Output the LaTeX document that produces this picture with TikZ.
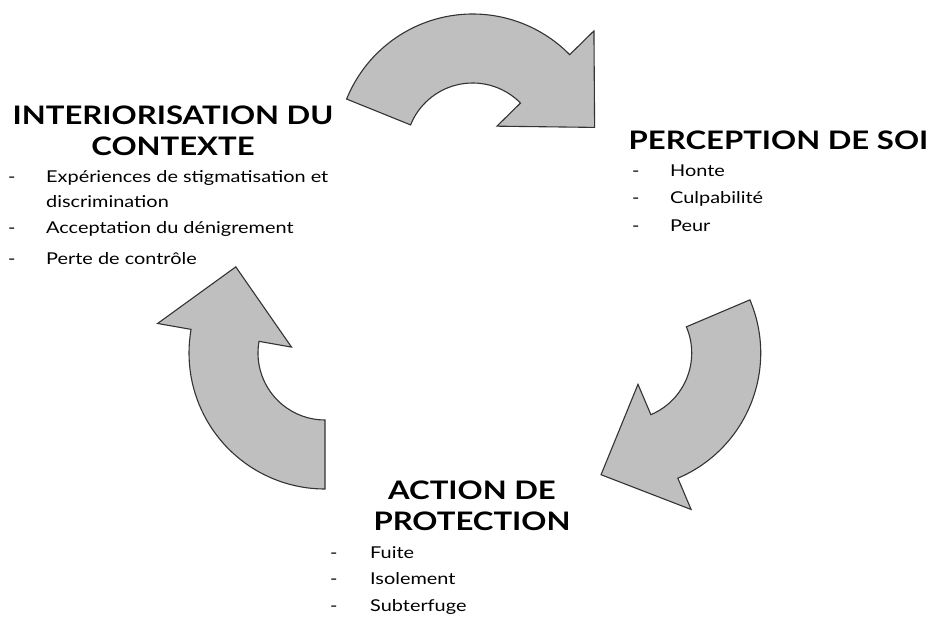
\documentclass[tikz,border=0pt]{standalone}
\usepackage{fontspec}
\setmainfont{Lato}[FakeStretch=1.22]
\usetikzlibrary{positioning}

% curved block arrow: centre, tail angle, head angle, tip angle
\newcommand{\cyclefleche}[4]{%
  \draw[fleche, shift={(#1)}] (#2:136) arc[start angle=#2, end angle=#3, radius=136]
    -- (#3:170) -- (#4:124) -- (#3:34) -- (#3:67)
    arc[start angle=#3, end angle=#2, radius=67] -- cycle;}

\begin{document}
\begin{tikzpicture}[
    x=1pt, y=1pt,
    titre/.style={font=\fontsize{25.5}{31}\selectfont\bfseries, align=center, inner sep=0pt, anchor=base},
    item/.style={font=\fontsize{16.3}{19}\selectfont, inner sep=0pt, anchor=base west},
    fleche/.style={draw=black!80, line width=1.1pt, fill=black!25, line join=miter}
]
    \useasboundingbox (0,0) rectangle (932,-618);

    % Arrow centres
    \coordinate (ctop) at (472.7,-150);
    \coordinate (cdroite) at (624.7,-353);
    \coordinate (cgauche) at (325,-353);

    % Arrows
    \cyclefleche{ctop}{158}{44.5}{10.5}
    \cyclefleche{cdroite}{23}{-67}{-101}
    \cyclefleche{cgauche}{-90}{-190}{-224}

    % Interiorisation
    \node[titre] (interio) at (173,-155) {INTERIORISATION DU\\CONTEXTE};
    \node[item] (ctx1) at (8,-182) {\makebox[38pt][l]{-}Expériences de stigmatisation et};
    \node[item] (ctx1b) at (46,-207) {discrimination};
    \node[item] (ctx2) at (8,-233) {\makebox[38pt][l]{-}Acceptation du dénigrement};
    \node[item] (ctx3) at (8,-264) {\makebox[38pt][l]{-}Perte de contrôle};

    % Perception
    \node[titre] (percep) at (778.5,-149) {PERCEPTION DE SOI};
    \node[item] (soi1) at (632,-176) {\makebox[38pt][l]{-}Honte};
    \node[item] (soi2) at (632,-203) {\makebox[38pt][l]{-}Culpabilité};
    \node[item] (soi3) at (632,-231) {\makebox[38pt][l]{-}Peur};

    % Action
    \node[titre] (action) at (472,-530) {ACTION DE\\PROTECTION};
    \node[item] (act1) at (330,-558) {\makebox[40pt][l]{-}Fuite};
    \node[item] (act2) at (330,-584) {\makebox[40pt][l]{-}Isolement};
    \node[item] (act3) at (330,-611) {\makebox[40pt][l]{-}Subterfuge};
\end{tikzpicture}
\end{document}
